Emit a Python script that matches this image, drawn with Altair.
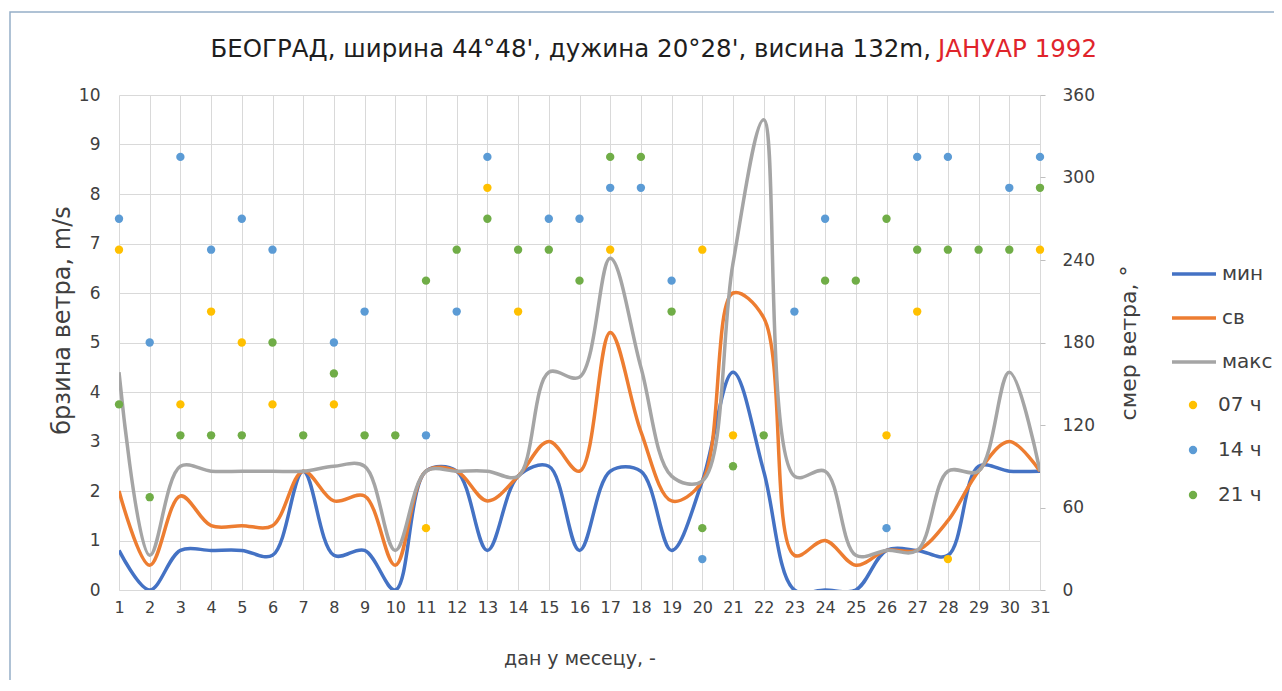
import altair as alt
import pandas as pd

days = list(range(1, 32))
v_min = [0.8, 0, 0.8, 0.8, 0.8, 0.7, 2.4, 0.7, 0.8, 0, 2.4, 2.4, 0.8, 2.3, 2.5, 0.8,
         2.4, 2.4, 0.8, 2.2, 4.4, 2.4, 0, 0, 0, 0.8, 0.8, 0.7, 2.5, 2.4, 2.4]
v_avg = [2.0, 0.5, 1.9, 1.3, 1.3, 1.3, 2.4, 1.8, 1.9, 0.5, 2.4, 2.4, 1.8, 2.3, 3.0, 2.4,
         5.2, 3.2, 1.8, 2.2, 6.0, 5.5, 0.7, 1.0, 0.5, 0.8, 0.8, 1.4, 2.4, 3.0, 2.4]
v_max = [4.4, 0.7, 2.5, 2.4, 2.4, 2.4, 2.4, 2.5, 2.5, 0.8, 2.4, 2.4, 2.4, 2.3, 4.4, 4.3,
         6.7, 4.5, 2.3, 2.2, 6.6, 9.5, 2.3, 2.4, 0.7, 0.8, 0.8, 2.4, 2.4, 4.4, 2.4]
dir07 = [247.5, None, 135, 202.5, 180, 135, None, 135, None, None, 45, None, 292.5, 202.5,
         None, None, 247.5, None, None, 247.5, 112.5, None, None, None, None, 112.5,
         202.5, 22.5, None, None, 247.5]
dir14 = [270, 180, 315, 247.5, 270, 247.5, None, 180, 202.5, None, 112.5, 202.5, 315, None,
         270, 270, 292.5, 292.5, 225, 22.5, None, None, 202.5, 270, None, 45, 315, 315,
         None, 292.5, 315]
dir21 = [135, 67.5, 112.5, 112.5, 112.5, 180, 112.5, 157.5, 112.5, 112.5, 225, 247.5, 270,
         247.5, 247.5, 225, 315, 315, 202.5, 45, 90, 112.5, None, 225, 225, 270, 247.5,
         247.5, 247.5, 247.5, 292.5]

line_names = ["мин", "св", "макс"]
line_colors = ["#4472C4", "#ED7D31", "#A5A5A5"]
point_names = ["07 ч", "14 ч", "21 ч"]
point_colors = ["#FFC000", "#5B9BD5", "#70AD47"]
speed_ticks = list(range(0, 11))
dir_ticks = [0, 60, 120, 180, 240, 300, 360]
title_main = "БЕОГРАД, ширина 44°48', дужина 20°28', висина 132m,"
title_red = "ЈАНУАР 1992"
x_title = "дан у месецу, -"
y_left_title = "брзина ветра, m/s"
y_right_title = "смер ветра, °"

FONT = "DejaVu Sans"
TXT = "#404040"
GRID = "#D9D9D9"

rows = []
for name, vals in zip(line_names, [v_min, v_avg, v_max]):
    for d, v in zip(days, vals):
        rows.append({"day": d, "value": v, "series": name})
lines_df = pd.DataFrame(rows)

prow = []
for name, vals in zip(point_names, [dir07, dir14, dir21]):
    for d, v in zip(days, vals):
        if v is not None:
            prow.append({"day": d, "dir": v, "time": name})
points_df = pd.DataFrame(prow)

one = pd.DataFrame({"k": [0]})

x_enc = alt.X(
    "day:Q",
    scale=alt.Scale(domain=[1, 31], nice=False, zero=False),
    axis=alt.Axis(values=days, title=x_title, grid=True, gridColor=GRID, domainColor=GRID,
                  ticks=False, labelFontSize=16, labelPadding=9, labelColor=TXT,
                  titleColor=TXT, titleFontSize=19, titleFontWeight="normal",
                  titlePadding=34, labelFont=FONT, titleFont=FONT, labelFlush=False),
)

lines = alt.Chart(lines_df).mark_line(
    interpolate="catmull-rom", strokeWidth=3.5, clip=True
).encode(
    x=x_enc,
    y=alt.Y("value:Q", scale=alt.Scale(domain=[0, 10], nice=False),
            axis=alt.Axis(values=speed_ticks, title=y_left_title, grid=True, gridColor=GRID,
                          domain=False, ticks=False, labelFontSize=17, labelPadding=19,
                          labelColor=TXT, titleColor=TXT, titleFontSize=24,
                          titleFontWeight="normal", titlePadding=4, titleY=225,
                          labelFont=FONT, titleFont=FONT)),
    stroke=alt.Stroke("series:N", scale=alt.Scale(domain=line_names, range=line_colors),
                      legend=alt.Legend(title=None, orient="none", legendX=1051, legendY=155,
                                        symbolType="stroke", symbolSize=1936,
                                        symbolStrokeWidth=3.5, labelFontSize=20,
                                        labelFont=FONT, labelColor=TXT, rowPadding=10,
                                        labelOffset=4, padding=0)),
)

points = alt.Chart(points_df).mark_circle(size=70, opacity=1).encode(
    x=x_enc,
    y=alt.Y("dir:Q", scale=alt.Scale(domain=[0, 360], nice=False),
            axis=alt.Axis(values=dir_ticks, orient="right", title=y_right_title, grid=False,
                          domain=False, ticks=True, tickSize=5, tickColor="#BFBFBF",
                          labelFontSize=17, labelPadding=17, labelColor=TXT,
                          titleColor=TXT, titleFontSize=22, titleFontWeight="normal",
                          titlePadding=46, titleAngle=270, labelFont=FONT, titleFont=FONT)),
    fill=alt.Fill("time:N", scale=alt.Scale(domain=point_names, range=point_colors),
                  legend=alt.Legend(title=None, orient="none", legendX=1064, legendY=300,
                                    symbolType="circle", symbolSize=70, labelFontSize=20,
                                    labelFont=FONT, labelColor=TXT, rowPadding=25,
                                    labelOffset=15, padding=0, symbolStrokeWidth=0)),
)

frame = alt.Chart(one).mark_rect(fill="transparent", stroke="#95AEC8", strokeWidth=1.5).encode(
    x=alt.value(-109), x2=alt.value(1175), y=alt.value(-83), y2=alt.value(610)
)

t1 = alt.Chart(one).mark_text(align="right", baseline="alphabetic", fontSize=24.5, font=FONT,
                              color="#1E1E1E").encode(
    x=alt.value(812), y=alt.value(-38), text=alt.value(title_main))
t2 = alt.Chart(one).mark_text(align="left", baseline="alphabetic", fontSize=24.5, font=FONT,
                              color="#E0242B").encode(
    x=alt.value(819), y=alt.value(-38), text=alt.value(title_red))

chart = alt.layer(frame, lines, points, t1, t2).resolve_scale(
    y="independent"
).properties(
    width=921, height=495,
    autosize=alt.AutoSizeParams(type="none"),
    padding={"left": 111, "top": 87, "right": 234, "bottom": 90},
).configure_view(stroke=None)

chart.save("out.html", embed_options={"renderer": "svg", "actions": False})
